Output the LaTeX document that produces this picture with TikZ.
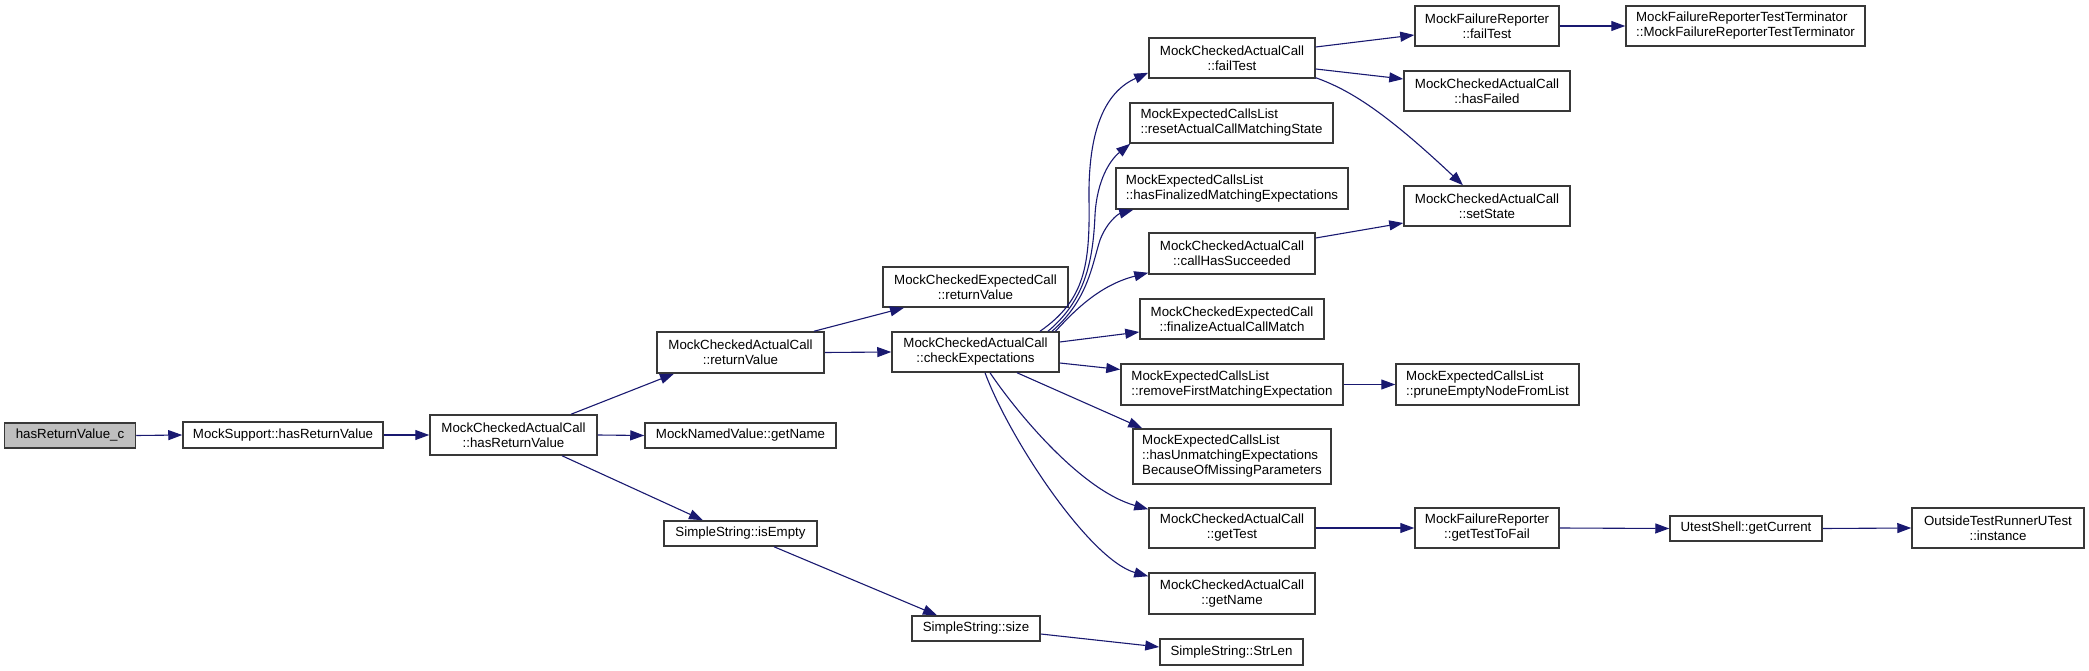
\documentclass[tikz,border=0pt]{standalone}
\usepackage{fontspec}
\setmainfont{Liberation Sans}
\usetikzlibrary{arrows.meta,calc}
\definecolor{edgeblue}{RGB}{25,25,112}
\definecolor{boxline}{RGB}{56,56,56}
\definecolor{rootfill}{RGB}{191,191,191}
\begin{document}
\begin{tikzpicture}[x=1pt,y=-1pt,
  fn/.style={draw=boxline, line width=1.5pt, fill=white, inner sep=0pt, align=center,
    font=\fontsize{13.3}{15}\selectfont},
  fnl/.style={fn, align=left},
  edge/.style={draw=edgeblue, line width=1.1pt, -{Triangle[length=14pt,width=10pt]}}]
\useasboundingbox (0,0) rectangle (2089,671);

% nodes
\node[fn, fill=rootfill, minimum width=131pt, minimum height=25pt] (root) at (70,435.5) {hasReturnValue\_c};
\node[fn, minimum width=200pt, minimum height=26pt] (ms) at (283,435) {MockSupport::hasReturnValue};
\node[fn, minimum width=167pt, minimum height=40pt] (hrv) at (513.5,435) {MockCheckedActualCall\\::hasReturnValue};
\node[fn, minimum width=191pt, minimum height=25pt] (nvg) at (740.5,435.5) {MockNamedValue::getName};
\node[fn, minimum width=167pt, minimum height=41pt] (arv) at (740.5,352.5) {MockCheckedActualCall\\::returnValue};
\node[fn, minimum width=153pt, minimum height=25pt] (ise) at (740.5,533.5) {SimpleString::isEmpty};
\node[fn, minimum width=185pt, minimum height=40pt] (erv) at (975.5,287) {MockCheckedExpectedCall\\::returnValue};
\node[fn, minimum width=167pt, minimum height=40pt] (chk) at (975.5,352) {MockCheckedActualCall\\::checkExpectations};
\node[fn, minimum width=128pt, minimum height=25pt] (siz) at (976,628.5) {SimpleString::size};
\node[fn, minimum width=166pt, minimum height=40pt] (ft) at (1232,58) {MockCheckedActualCall\\::failTest};
\node[fnl, minimum width=203pt, minimum height=40pt] (rst) at (1231.5,123) {MockExpectedCallsList\\::resetActualCallMatchingState};
\node[fnl, minimum width=232pt, minimum height=41pt] (hfm) at (1232,188.5) {MockExpectedCallsList\\::hasFinalizedMatchingExpectations};
\node[fn, minimum width=166pt, minimum height=41pt] (chs) at (1232,253.5) {MockCheckedActualCall\\::callHasSucceeded};
\node[fn, minimum width=184pt, minimum height=40pt] (fin) at (1232,319) {MockCheckedExpectedCall\\::finalizeActualCallMatch};
\node[fnl, minimum width=222pt, minimum height=41pt] (rfm) at (1232,384.5) {MockExpectedCallsList\\::removeFirstMatchingExpectation};
\node[fnl, minimum width=198pt, minimum height=55pt] (hum) at (1232,456.5) {MockExpectedCallsList\\::hasUnmatchingExpectations\\BecauseOfMissingParameters};
\node[fn, minimum width=166pt, minimum height=40pt] (gt) at (1232,528) {MockCheckedActualCall\\::getTest};
\node[fn, minimum width=166pt, minimum height=41pt] (gn) at (1232,593.5) {MockCheckedActualCall\\::getName};
\node[fn, minimum width=143pt, minimum height=26pt] (sl) at (1231.5,652) {SimpleString::StrLen};
\node[fn, minimum width=144pt, minimum height=40pt] (mfr) at (1487,26) {MockFailureReporter\\::failTest};
\node[fn, minimum width=166pt, minimum height=40pt] (hf) at (1487,91) {MockCheckedActualCall\\::hasFailed};
\node[fn, minimum width=166pt, minimum height=40pt] (ss) at (1487,206) {MockCheckedActualCall\\::setState};
\node[fnl, minimum width=183pt, minimum height=41pt] (pr) at (1487.5,384.5) {MockExpectedCallsList\\::pruneEmptyNodeFromList};
\node[fn, minimum width=144pt, minimum height=40pt] (gttf) at (1487,528) {MockFailureReporter\\::getTestToFail};
\node[fnl, minimum width=239pt, minimum height=40pt] (term) at (1745.5,26) {MockFailureReporterTestTerminator\\::MockFailureReporterTestTerminator};
\node[fn, minimum width=152pt, minimum height=25pt] (gc) at (1746,528.5) {UtestShell::getCurrent};
\node[fn, minimum width=172pt, minimum height=40pt] (inst) at (1998,528) {OutsideTestRunnerUTest\\::instance};

% edges
\draw[edge] (root.east) -- (ms.west);
\draw[edge] (ms.east) -- (hrv.west);
\draw[edge] ($(hrv.north)+(57.5,0)$) -- ($(arv.south)+(-66.5,0)$);
\draw[edge] (hrv.east) -- (nvg.west);
\draw[edge] ($(hrv.south)+(48.5,0)$) -- ($(ise.north)+(-37.5,0)$);
\draw[edge] ($(arv.north)+(73.5,0)$) -- ($(erv.south)+(-71.5,0)$);
\draw[edge] (arv.east) -- (chk.west);

\draw[edge] ($(chk.north)+(64.5,0)$) .. controls (1085,300) and (1090,265) .. (1089,200)
  .. controls (1088,130) and (1105,92) .. ($(ft.south west)+(0,-6)$);
\draw[edge] ($(chk.north)+(72.5,0)$) .. controls (1085,300) and (1093,262) .. (1095,215)
  .. controls (1097,180) and (1110,160) .. ($(rst.south west)+(1,0)$);
\draw[edge] ($(chk.north)+(76.5,0)$) .. controls (1088,300) and (1092,265) .. (1100,240)
  .. controls (1107,222) and (1118,214) .. ($(hfm.south west)+(18,0)$);
\draw[edge] ($(chk.north)+(80,0)$) .. controls (1075,310) and (1100,285) .. ($(chs.south west)+(0,-2)$);
\draw[edge] ($(chk.east)+(0,-10)$) -- ($(fin.west)+(0,13)$);
\draw[edge] ($(chk.east)+(0,11)$) -- ($(rfm.west)+(0,-15)$);
\draw[edge] ($(chk.south)+(41.5,0)$) -- ($(hum.north west)+(10,0)$);
\draw[edge] ($(chk.south)+(14.5,0)$) .. controls (1015,410) and (1080,490) .. ($(gt.north west)+(0,2)$);
\draw[edge] ($(chk.south)+(9.5,0)$) .. controls (1010,440) and (1090,560) .. ($(gn.north west)+(0,4)$);

\draw[edge] ($(ft.east)+(0,-11)$) -- ($(mfr.west)+(0,9)$);
\draw[edge] ($(ft.east)+(0,11)$) -- ($(hf.west)+(0,-12)$);
\draw[edge] ($(ft.south east)+(0,-1)$) .. controls (1350,90) and (1385,112) .. ($(ss.north)+(-24,0)$);
\draw[edge] ($(chs.east)+(0,-15.5)$) -- ($(ss.west)+(0,17)$);
\draw[edge] (mfr.east) -- (term.west);
\draw[edge] (rfm.east) -- (pr.west);
\draw[edge] (gt.east) -- (gttf.west);
\draw[edge] (gttf.east) -- (gc.west);
\draw[edge] (gc.east) -- (inst.west);
\draw[edge] ($(ise.south)+(33.5,0)$) -- ($(siz.north)+(-39,0)$);
\draw[edge] ($(siz.east)+(0,5.5)$) -- ($(sl.west)+(0,-5)$);
\end{tikzpicture}
\end{document}
